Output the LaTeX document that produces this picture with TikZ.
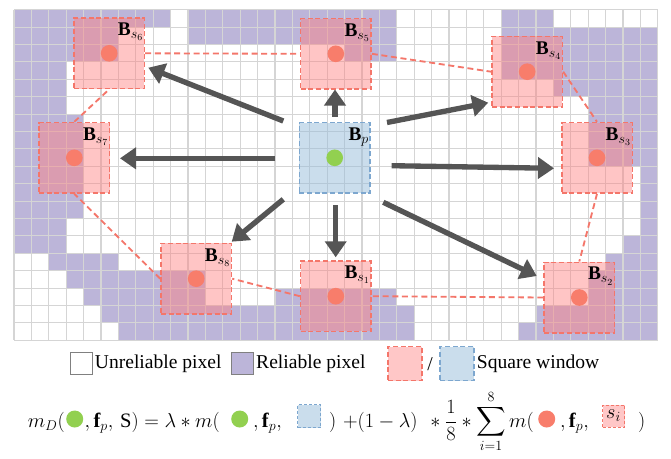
\documentclass[tikz,border=0pt]{standalone}
\usepackage{amsmath,amssymb}
\usepackage{fontspec}
\setmainfont{Liberation Serif}
\usetikzlibrary{arrows.meta, positioning, calc}
\definecolor{relpurple}{HTML}{BCB5D9}
\definecolor{gridgray}{HTML}{D5D5D5}
\definecolor{winred}{HTML}{FF7F7F}
\definecolor{winedge}{HTML}{F4766A}
\definecolor{dotred}{HTML}{F87D6B}
\definecolor{dotgreen}{HTML}{92D050}
\definecolor{winblue}{HTML}{96BCDA}
\definecolor{blueedge}{HTML}{7DA7CF}
\definecolor{arrowgray}{HTML}{555555}
\definecolor{keypink}{HTML}{FFC7C7}
\definecolor{keyblue}{HTML}{CADDEC}
\definecolor{keyedge}{HTML}{808080}

\begin{document}
\begin{tikzpicture}[x=0.3mm, y=-0.3mm,
  gridline/.style={gridgray, line width=0.35mm},
  win/.style={draw=winedge, line width=0.45mm, dash pattern=on 1.5mm off 0.8mm,
    fill=winred, fill opacity=0.45, minimum size=21.15mm, inner sep=0pt},
  bwin/.style={win, draw=blueedge, fill=winblue, fill opacity=0.5},
  ring/.style={winedge, line width=0.55mm, dash pattern=on 1.8mm off 1.1mm},
  lab/.style={font=\fontsize{16.5}{19}\selectfont, inner sep=0pt, anchor=north east},
  push/.style={arrowgray, line width=1.6mm, -{Triangle[length=4.8mm, width=6.3mm]}},
  key/.style={draw=keyedge, line width=0.3mm, minimum size=6.6mm, inner sep=0pt},
  keytext/.style={font=\fontsize{16.7}{20}\selectfont, inner sep=0pt},
  fpart/.style={font=\fontsize{17.5}{20}\selectfont, inner sep=0pt, anchor=base west},
  fdot/.style={circle, minimum size=5.1mm, inner sep=0pt, anchor=west},
  fsq/.style={dash pattern=on 0.9mm off 0.6mm, line width=0.3mm, fill opacity=1,
    anchor=west, font=\fontsize{17.5}{20}\selectfont}]

% Page
\useasboundingbox (0,0) rectangle (671,458);
\fill[white] (0,0) rectangle (671,458);

% ================================================================
% PIXEL GRID: 37 x 19 cells, cell = 17.4 px, origin (14, 9.7)
% ================================================================
% reliable pixels, row / first col / last col
\foreach \r/\a/\b in {0/0/8, 0/10/21, 0/28/30,
    1/0/5, 1/10/21, 1/28/36,
    2/0/5, 2/19/21, 2/28/36,
    3/0/2, 3/28/36,
    4/0/2, 4/31/36,
    5/0/2, 5/33/36,
    6/0/3, 6/33/36, 7/0/3, 7/33/36, 8/0/3, 8/33/36,
    9/0/3, 9/36/36, 10/0/3, 10/36/36, 11/0/3, 11/36/36,
    12/0/2, 12/36/36,
    13/0/2, 13/35/36,
    14/2/5, 14/34/36,
    15/3/10, 15/33/36,
    16/4/10, 16/15/21, 16/33/36,
    17/5/22, 17/30/36,
    18/6/22, 18/29/36} {
  \fill[relpurple] ({14+17.4*\a},{9.7+17.4*\r}) rectangle ({14+17.4*(\b+1)},{9.7+17.4*(\r+1)});
}

% grid lines
\foreach \c in {0,...,37}
  \draw[gridline] ({14+17.4*\c},9.7) -- ({14+17.4*\c},340.3);
\foreach \r in {0,...,19}
  \draw[gridline] (14,{9.7+17.4*\r}) -- (657.8,{9.7+17.4*\r});

% ================================================================
% WINDOWS
% ================================================================
\node[win] (s6) at (109.2,53.3) {};
\node[win] (s5) at (335.8,53.8) {};
\node[win] (s4) at (527.2,71.7) {};
\node[win] (s3) at (597,157.8) {};
\node[win] (s2) at (579.3,297.5) {};
\node[win] (s1) at (335.8,296.2) {};
\node[win] (s8) at (196.2,278.7) {};
\node[win] (s7) at (74.3,157.8) {};
\node[bwin] (bp) at (334.7,157.8) {};

% dashed ring through the neighbours
\draw[ring] (s6.east) -- (s5.west);
\draw[ring] (s5.east) -- (s4.west);
\draw[ring] (s4.east) -- (s3.north);
\draw[ring] (s3.south) -- (s2.north);
\draw[ring] (s2.west) -- (s1.east);
\draw[ring] (s1.west) -- (s8.east);
\draw[ring] (s8.west) -- (s7.south);
\draw[ring] (s7.north) -- (s6.south);

% centre pixels
\foreach \s in {s1,s2,s3,s4,s5,s6,s7,s8}
  \fill[dotred] (\s.center) circle (2.5mm);
\fill[dotgreen] (bp.center) circle (2.5mm);

% window labels
\foreach \s/\i in {s1/1,s2/2,s3/3,s4/4,s5/5,s6/6,s7/7,s8/8}
  \node[lab] at ($(\s.north east)+(-1.5,5.5)$) {$\mathbf{B}_{s_{\i}}$};
\node[lab] at ($(bp.north east)+(-1.5,5.5)$) {$\mathbf{B}_{p}$};

% ================================================================
% ARROWS from the centre window
% ================================================================
\coordinate (t5) at (335,116.7);   \coordinate (h5) at (335,89.5);
\coordinate (t6) at (283.3,121);   \coordinate (h6) at (148.3,67.7);
\coordinate (t7) at (275,158.3);   \coordinate (h7) at (120,158.3);
\coordinate (t4) at (387,122.5);   \coordinate (h4) at (488.3,102.7);
\coordinate (t3) at (391.7,165.7); \coordinate (h3) at (554,168.3);
\coordinate (t2) at (383.3,202.3); \coordinate (h2) at (536.7,276);
\coordinate (t1) at (335.7,205);   \coordinate (h1) at (335.7,257.3);
\coordinate (t8) at (283.3,199.3); \coordinate (h8) at (231.7,241.7);
\foreach \k in {1,...,8}
  \draw[push] (t\k) -- (h\k);

% ================================================================
% LEGEND
% ================================================================
\node[key, fill=white] (kun) at (81.7,363.3) {};
\node[keytext, anchor=west] (tun) at ($(kun.east)+(1.5,0)$) {Unreliable pixel};
\node[key, fill=relpurple] (krel) at (242.5,363.3) {};
\node[keytext, anchor=west] (trel) at ($(krel.east)+(2,0)$) {Reliable pixel};
\node[win, fill=keypink, fill opacity=1, minimum size=10.2mm] (kred) at (405,363.7) {};
\node[keytext] (slash) at (430,363.7) {/};
\node[bwin, fill=keyblue, fill opacity=1, minimum size=10.2mm] (kblue) at (457,363.7) {};
\node[keytext, anchor=west] (tsq) at ($(kblue.east)+(2,0)$) {Square window};

% ================================================================
% FORMULA  (baseline y = 427)
% ================================================================
\node[fdot, fill=dotgreen] (g1) at (66,419) {};
\node[fdot, fill=dotgreen] (g2) at (231,419) {};
\node[bwin, fsq, fill=keyblue, minimum size=6.9mm] (b1) at (297,416) {};
\node[fdot, fill=dotred] (r1) at (538,419) {};
\node[win, fsq, fill=keypink, minimum size=6.6mm] (q1) at (602,416) {$s_i$};

\node[fpart, anchor=base east] (f1) at ($(g1.west |- 0,427)+(-1,0)$) {$m_D($};
\node[fpart] (f2) at ($(g1.east |- f1.base)+(1,0)$) {$,\mathbf{f}_p,\,\mathrm{S})=\lambda*m($};
\node[fpart] (f3) at ($(g2.east |- f1.base)+(1,0)$) {$\,,\mathbf{f}_p,$};
\node[fpart] (f4) at ($(b1.east |- f1.base)+(8,0)$)
  {$\displaystyle )\hspace{2mm}{+}(1-\lambda)\hspace{2.5mm}*\frac{1}{8}*\sum_{i=1}^{8}m($};
\node[fpart] (f5) at ($(r1.east |- f1.base)+(1,0)$) {$\,,\mathbf{f}_p,$};
\node[fpart] (f6) at (638,427) {$)$};

\end{tikzpicture}
\end{document}
